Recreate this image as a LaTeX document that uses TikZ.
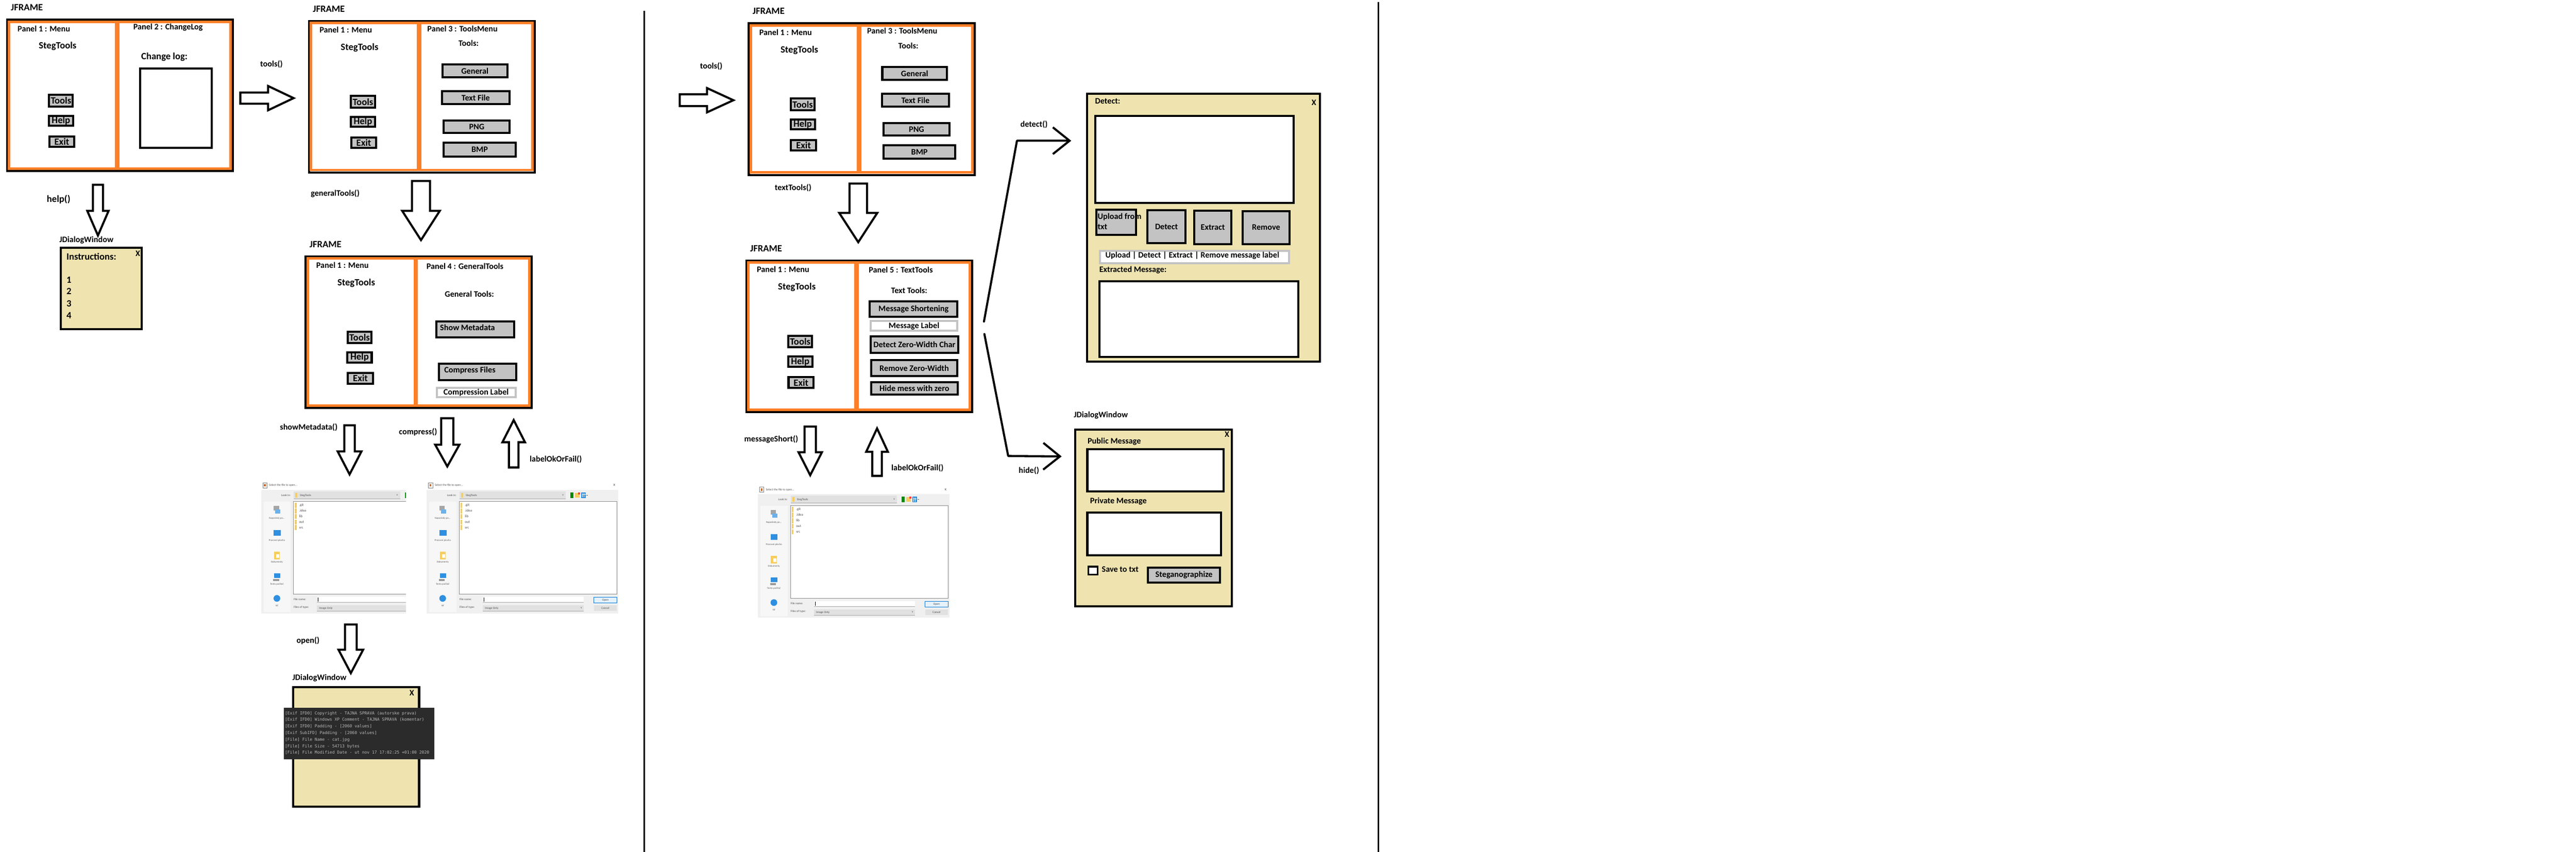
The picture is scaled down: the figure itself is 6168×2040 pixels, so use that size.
\documentclass[tikz,border=0pt]{standalone}
\usepackage{fontspec}
\setmainfont{Carlito}
\newfontfamily\consolefont{DejaVu Sans Mono}
\usetikzlibrary{arrows.meta}

\definecolor{panelorange}{HTML}{FF7F27}
\definecolor{btngray}{HTML}{C3C3C3}
\definecolor{dlgyellow}{HTML}{EFE4B0}
\definecolor{consolebg}{HTML}{2B2B2B}
\definecolor{consoletext}{HTML}{B9B9B9}
\definecolor{dlgbody}{HTML}{F0F0F0}
\definecolor{dlgside}{HTML}{F7F7F7}
\definecolor{combogray}{HTML}{E1E1E1}
\definecolor{folderyel}{HTML}{F5CE61}
\definecolor{winblue}{HTML}{2F8FE0}
\definecolor{openblue}{HTML}{0078D7}
\definecolor{openfill}{HTML}{E5F1FB}

\tikzset{
  txt/.style={font=\fontsize{20}{24}\selectfont\bfseries, inner sep=0pt},
  bigtxt/.style={font=\fontsize{23}{27}\selectfont\bfseries, inner sep=0pt},
  jframe/.style={draw, line width=5pt, inner sep=0pt, outer sep=0pt},
  orangepanel/.style={draw=panelorange, line width=6pt},
  graybtn/.style={draw, line width=5pt, fill=btngray, inner sep=0pt, outer sep=0pt, font=\fontsize{20}{24}\selectfont\bfseries},
  menubtn/.style={graybtn, font=\fontsize{23}{27}\selectfont\bfseries},
  lblbox/.style={draw=btngray, line width=5pt, fill=white, inner sep=0pt, outer sep=0pt, font=\fontsize{20}{24}\selectfont\bfseries},
  dlgwin/.style={draw, line width=5pt, fill=dlgyellow, inner sep=0pt, outer sep=0pt, anchor=north west},
  txtbox/.style={draw, line width=5pt, fill=white},
  blockarrow/.style={draw, line width=5pt, fill=white, line join=miter},
  callflow/.style={line width=5pt, line cap=round, line join=round, -{Straight Barb[length=40pt, width=64pt]}},
  dlgtxt/.style={font=\fontsize{7}{8}\selectfont, text=black!70, inner sep=0pt},
  sidetxt/.style={font=\fontsize{6}{7}\selectfont, text=black!65, inner sep=0pt},
  conline/.style={font=\consolefont\fontsize{9.9}{12}\selectfont, text=consoletext, inner sep=0pt, anchor=base west},
}

% frame with the menu panel on the left
\newcommand{\menuframe}[3]{%
  \begin{scope}[shift={(#2,#3)}]
    \node[bigtxt, anchor=mid west] (#1-jf) at (9,-24) {JFRAME};
    \node[jframe, anchor=north west, minimum width=541, minimum height=363] (#1) at (0,0) {};
    \draw[orangepanel] (5,5) rectangle (261,357);
    \draw[orangepanel] (266,5) rectangle (535,357);
    \node[txt, anchor=mid west] (#1-p1) at (25,26) {Panel 1 : Menu};
    \node[bigtxt] (#1-steg) at (121,64) {StegTools};
    \node[menubtn, minimum width=57, minimum height=28] (#1-tools) at (129,194) {Tools};
    \node[menubtn, minimum width=58, minimum height=24] (#1-help) at (129,242) {Help};
    \node[menubtn, minimum width=60, minimum height=25] (#1-exit) at (131,292) {Exit};
  \end{scope}}

% right panel: tools menu
\newcommand{\toolspanel}[3]{%
  \begin{scope}[shift={(#2,#3)}]
    \node[txt, anchor=mid west] (#1-p3) at (283,23) {Panel 3 : ToolsMenu};
    \node[txt] (#1-head) at (382,54) {Tools:};
    \node[graybtn, minimum width=155, minimum height=31] (#1-gen) at (397,120) {General};
    \node[graybtn, minimum width=161, minimum height=31] (#1-txt) at (399,184) {Text File};
    \node[graybtn, minimum width=158, minimum height=30] (#1-png) at (401.5,253.5) {PNG};
    \node[graybtn, minimum width=172, minimum height=33] (#1-bmp) at (408.5,308) {BMP};
  \end{scope}}

% block arrows: centre, half shaft, half head, back, head base, tip
\newcommand{\blockvarrow}[6]{%
  \draw[blockarrow] ({#1-#2},#4) -- ({#1+#2},#4) -- ({#1+#2},#5) -- ({#1+#3},#5)
    -- (#1,#6) -- ({#1-#3},#5) -- ({#1-#2},#5) -- cycle;}
\newcommand{\blockharrow}[6]{%
  \draw[blockarrow] (#4,{#1-#2}) -- (#5,{#1-#2}) -- (#5,{#1-#3}) -- (#6,#1)
    -- (#5,{#1+#3}) -- (#5,{#1+#2}) -- (#4,{#1+#2}) -- cycle;}

% file chooser screenshot
\newcommand{\filedlg}[4]{%
  \begin{scope}[shift={(#2,#3)}]
    \begin{scope}
      \clip (-4,-24) rectangle (#4,300);
      \draw[black!50, fill=white, line width=0.8pt] (4,-17) rectangle (14,-5);
      \fill[panelorange!80!black] (7,-14) rectangle (11,-8);
      \node[dlgtxt, anchor=mid west] (#1-title) at (19,-11) {Select the file to open...};
      \node[dlgtxt, font=\fontsize{10}{10}\selectfont] (#1-close) at (449,-11) {x};
      \fill[dlgbody] (0,0) rectangle (458,296);
      \node[dlgtxt, anchor=mid east] (#1-look) at (71,13) {Look in:};
      \fill[combogray] (78,4) rectangle (333,22);
      \draw[black!35, line width=1pt] (78,22) -- (333,22);
      \fill[folderyel] (82,7) rectangle (87,19);
      \node[dlgtxt, anchor=mid west] (#1-dir) at (93,13) {StegTools};
      \node[dlgtxt] (#1-drop) at (326,13) {v};
      \fill[green!55!black] (344,6) rectangle (351,20);
      \fill[folderyel] (355,8) rectangle (366,19);
      \fill[red!75] (362,6) rectangle (367,11);
      \fill[winblue] (370,6) rectangle (381,20);
      \draw[white, line width=1pt] (373,9) -- (373,18) (376,9) -- (376,18) (372,11) -- (380,11);
      \draw[black!60, line width=1pt] (382,13) -- (386,13);
      \fill[dlgside] (6,28) rectangle (71,292);
      \fill[black!35] (30,38) rectangle (43,49);
      \fill[winblue!70] (34,47) rectangle (46,57);
      \node[sidetxt] (#1-recent) at (38,68) {Naposledy po...};
      \fill[winblue] (30,96) rectangle (47,110);
      \node[sidetxt] (#1-desk) at (38,121) {Pracovní plocha};
      \fill[folderyel] (31,148) rectangle (45,167);
      \fill[white] (36,154) rectangle (44,163);
      \node[sidetxt] (#1-docs) at (38,173) {Dokumenty};
      \fill[winblue] (31,200) rectangle (46,211);
      \fill[black!40] (29,213) rectangle (43,218);
      \node[sidetxt] (#1-pc) at (38,226) {Tento počítač};
      \fill[winblue] (38,260) circle (8);
      \node[sidetxt] (#1-net) at (38,277) {Síť};
      \draw[black!45, line width=1pt, fill=white] (78,28) rectangle (455,250);
      \foreach \fname [count=\fidx from 0] in {.git,.idea,lib,out,src}{
        \fill[folderyel] (81,{31+13.4*\fidx}) rectangle (85,{43+13.4*\fidx});
        \node[dlgtxt, font=\fontsize{8.5}{9}\selectfont, anchor=mid west] (#1-f\fidx) at (91,{37+13.4*\fidx}) {\fname};
      }
      \node[dlgtxt, anchor=mid west] (#1-fnl) at (78,262) {File name:};
      \fill[white] (134,256) rectangle (376,270);
      \draw[black!35, line width=1pt] (134,270) -- (376,270);
      \draw[line width=0.8pt] (137,258) -- (137,268);
      \node[dlgtxt, anchor=mid west] (#1-ftl) at (78,281) {Files of type:};
      \fill[combogray] (134,276) rectangle (376,291);
      \draw[black!35, line width=1pt] (134,291) -- (376,291);
      \node[dlgtxt, anchor=mid west] (#1-ft) at (139,283) {Image Only};
      \node[dlgtxt] (#1-ftdrop) at (370,283) {v};
      \node[draw=openblue, line width=1.2pt, fill=openfill, minimum width=55, minimum height=14, dlgtxt] (#1-open) at (427.5,264) {Open};
      \node[fill=combogray, minimum width=55, minimum height=14, dlgtxt] (#1-cancel) at (427.5,283) {Cancel};
    \end{scope}
  \end{scope}}

\begin{document}
\begin{tikzpicture}[x=1pt, y=-1pt]
\useasboundingbox (0,0) rectangle (6168,2040);
\fill[white] (0,0) rectangle (6168,2040);

% separators
\draw[line width=4pt] (1543,26) -- (1543,2040);
\draw[line width=4pt] (3300,5) -- (3300,2040);

% start window: menu + change log
\menuframe{fa}{17}{47}
\begin{scope}[shift={(17,47)}]
  \node[txt, anchor=mid west] (fa-p2) at (302,22) {Panel 2 : ChangeLog};
  \node[bigtxt, anchor=mid west] (fa-log) at (321,93) {Change log:};
  \draw[txtbox] (318,117) rectangle (490,307);
\end{scope}

% help dialog
\node[txt, anchor=mid west] (helplbl) at (142,578) {JDialogWindow};
\node[dlgwin, minimum width=194, minimum height=195] (helpdlg) at (145.5,593.5) {};
\node[txt] (helpx) at (330,607) {X};
\node[bigtxt, anchor=mid west] (helpins) at (159,620) {Instructions:};
\foreach \num/\ny in {1/675,2/703,3/732,4/760}
  \node[bigtxt, anchor=mid west] (helpn\num) at (159,\ny) {\num};

% tools menu
\menuframe{fb}{740}{50}
\toolspanel{fb}{740}{50}

% general tools
\menuframe{fc}{732}{614}
\node[txt, anchor=mid west] (fc-p4) at (1021,642) {Panel 4 : GeneralTools};
\node[txt] (fc-head) at (1124,704) {General Tools:};
\node[graybtn, minimum width=187, minimum height=38] (fc-meta) at (1138,788.5) {};
\node[txt, anchor=mid west] (fc-metat) at ([xshift=9]fc-meta.west) {Show Metadata};
\node[graybtn, minimum width=185, minimum height=39] (fc-comp) at (1144,890.5) {};
\node[txt, anchor=mid west] (fc-compt) at ([xshift=12]fc-comp.west) {Compress Files};
\node[lblbox, minimum width=189, minimum height=23] (fc-clbl) at (1140,940) {Compression Label};

% file choosers
\filedlg{dlga}{625}{1173}{347}
\filedlg{dlgb}{1022}{1173}{470}

% metadata dialog
\node[txt, anchor=mid west] (conlbl) at (700,1626) {JDialogWindow};
\node[dlgwin, minimum width=302, minimum height=286] (condlg) at (701.5,1645.5) {};
\node[txt] (conx) at (986,1659) {X};
\node[fill=consolebg, anchor=north west, minimum width=360, minimum height=123, inner sep=0pt] (console) at (680,1695) {};
\foreach \ln [count=\lnum from 0] in {%
  {[Exif IFD0] Copyright - TAJNA SPRAVA (autorske prava)},
  {[Exif IFD0] Windows XP Comment - TAJNA SPRAVA (komentar)},
  {[Exif IFD0] Padding - [2060 values]},
  {[Exif SubIFD] Padding - [2060 values]},
  {[File] File Name - cat.jpg},
  {[File] File Size - 54713 bytes},
  {[File] File Modified Date - ut nov 17 17:02:25 +01:00 2020}}
  \node[conline] (con\lnum) at (682,{1711+15.8*\lnum}) {\ln};

% second half: tools menu again
\menuframe{fd}{1793}{56}
\toolspanel{fd}{1793}{56}

% text tools
\menuframe{fe}{1787}{624}
\node[txt, anchor=mid west] (fe-p5) at (2080,651) {Panel 5 : TextTools};
\node[txt] (fe-head) at (2177,695) {Text Tools:};
\node[graybtn, minimum width=210, minimum height=37] (fe-short) at (2187.5,740) {Message Shortening};
\node[lblbox, minimum width=208, minimum height=24] (fe-mlbl) at (2188.5,780.5) {Message Label};
\node[graybtn, minimum width=210, minimum height=40] (fe-detect) at (2189.5,825.5) {Detect Zero-Width Char};
\node[graybtn, minimum width=207, minimum height=38] (fe-remove) at (2189,881.5) {Remove Zero-Width};
\node[graybtn, minimum width=208, minimum height=30] (fe-hide) at (2189.5,930.5) {Hide mess with zero};

\filedlg{dlgc}{1815}{1183}{470}

% detect window
\node[dlgwin, minimum width=558, minimum height=642] (detwin) at (2602.5,224.5) {};
\node[txt, anchor=mid west] (det-title) at (2622,246) {Detect:};
\node[txt] (det-x) at (3146,246) {X};
\draw[txtbox] (2622.5,277.5) rectangle (3097.5,486.5);
\node[graybtn, minimum width=95, minimum height=60] (det-up) at (2672,532.5) {};
\node[txt, anchor=mid west] (det-upa) at (2628,523) {Upload from};
\node[txt, anchor=mid west] (det-upb) at (2628,547) {txt};
\draw[line width=5pt] (det-up.south west) rectangle (det-up.north east);
\node[graybtn, minimum width=91, minimum height=79] (det-det) at (2793,543) {Detect};
\node[graybtn, minimum width=89, minimum height=80] (det-ext) at (2904,544.5) {Extract};
\node[graybtn, minimum width=112, minimum height=79] (det-rem) at (3031.5,545) {Remove};
\node[lblbox, minimum width=453, minimum height=30] (det-lbl) at (2860,615.5) {};
\node[txt, anchor=mid west] (det-lblt) at ([xshift=13]det-lbl.west) {Upload | Detect | Extract | Remove message label};
\node[txt, anchor=mid west] (det-extr) at (2632,649) {Extracted Message:};
\draw[txtbox] (2632.5,673.5) rectangle (3108.5,854.5);

% hide window
\node[txt, anchor=mid west] (hidelbl) at (2571,997) {JDialogWindow};
\node[dlgwin, minimum width=375, minimum height=423] (hidewin) at (2574.5,1028.5) {};
\node[txt] (hide-x) at (2938,1040) {X};
\node[txt, anchor=mid west] (hide-pub) at (2604,1060) {Public Message};
\draw[txtbox] (2603.5,1075.5) rectangle (2929.5,1176.5);
\node[txt, anchor=mid west] (hide-priv) at (2610,1203) {Private Message};
\draw[txtbox] (2603.5,1227.5) rectangle (2923.5,1329.5);
\draw[line width=4pt, fill=white] (2606,1357) rectangle (2628,1376);
\node[txt, anchor=mid west] (hide-save) at (2638,1368) {Save to txt};
\node[graybtn, minimum width=173, minimum height=36] (hide-steg) at (2835,1377.5) {Steganographize};

% call labels
\node[bigtxt, anchor=mid west] (lblhelp) at (112,482) {help()};
\node[txt, anchor=mid west] (lbltools) at (623,157) {tools()};
\node[txt, anchor=mid west] (lblgen) at (744,467) {generalTools()};
\node[txt, anchor=mid west] (lblmeta) at (670,1027) {showMetadata()};
\node[txt, anchor=mid west] (lblcomp) at (955,1038) {compress()};
\node[txt, anchor=mid west] (lblok) at (1268,1104) {labelOkOrFail()};
\node[txt, anchor=mid west] (lblopen) at (710,1538) {open()};
\node[txt, anchor=mid west] (lbltools2) at (1676,162) {tools()};
\node[txt, anchor=mid west] (lbltext) at (1855,454) {textTools()};
\node[txt, anchor=mid west] (lblshort) at (1782,1056) {messageShort()};
\node[txt, anchor=mid west] (lblok2) at (2134,1124) {labelOkOrFail()};
\node[txt, anchor=mid west] (lbldet) at (2443,302) {detect()};
\node[txt, anchor=mid west] (lblhide) at (2439,1131) {hide()};

% block arrows
\blockvarrow{234.5}{12}{25.5}{442.5}{505}{564}
\blockharrow{235}{13.5}{29}{575.5}{642}{703}
\blockvarrow{1008}{21.5}{45}{433.5}{505}{575}
\blockvarrow{837}{12.5}{28.5}{1018.5}{1081}{1136}
\blockvarrow{1071}{14.5}{29}{1001.5}{1065}{1117}
\blockvarrow{1230}{11.5}{27}{1119.5}{1059}{1006}
\blockvarrow{840}{14}{29.5}{1495.5}{1556}{1612}
\blockharrow{240}{14}{29}{1627.5}{1693}{1756}
\blockvarrow{2055}{21}{45.5}{439.5}{510}{580}
\blockvarrow{1940}{13.5}{28}{1021.5}{1083}{1138}
\blockvarrow{2100}{11.5}{26}{1139.5}{1082}{1026}

% calls out of the text tools
\coordinate (detFrom) at (2356,770);
\coordinate (detBend) at (2435,337);
\coordinate (detTo) at (2565,337);
\draw[callflow] (detFrom) -- (detBend) -- (detTo);
\coordinate (hideFrom) at (2357,800);
\coordinate (hideBend) at (2414,1092);
\coordinate (hideTo) at (2542,1093);
\draw[callflow] (hideFrom) -- (hideBend) -- (hideTo);
\end{tikzpicture}
\end{document}
